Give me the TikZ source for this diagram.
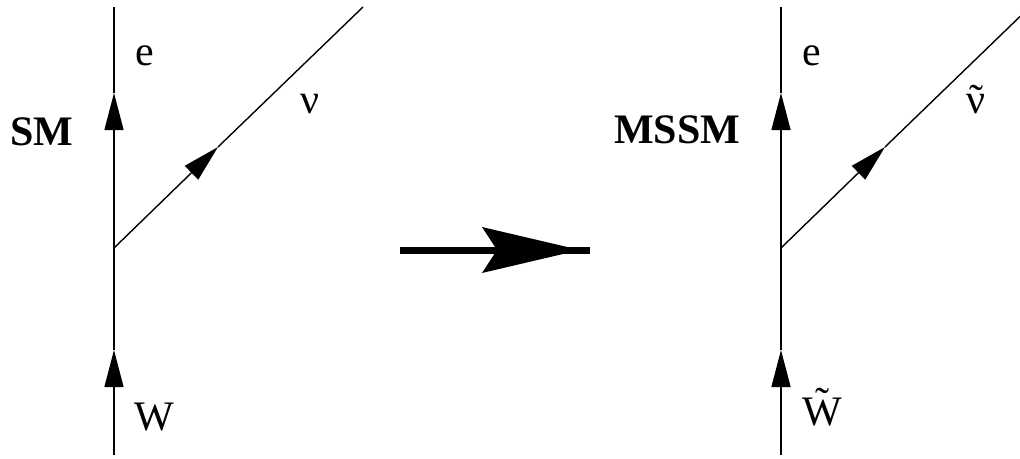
\documentclass[tikz,border=0pt]{standalone}
\usepackage{fontspec}
\setmainfont{Liberation Serif}
\usetikzlibrary{arrows.meta}
\begin{document}
\begin{tikzpicture}[x=1pt,y=-1pt,
  prop/.style={line width=1.4pt},
  fermion/.style={prop,-{Triangle[length=37pt,width=19pt]}},
  lbl/.style={anchor=base,inner sep=0pt,font=\fontsize{42}{48}\selectfont},
  model/.style={anchor=base,inner sep=0pt,font=\fontsize{42}{48}\selectfont\bfseries}]
\useasboundingbox (0,0) rectangle (1020,458);
% ---------- SM diagram ----------
\coordinate (Lbot) at (114,455);
\coordinate (Lv) at (114,248);
\coordinate (Ltop) at (114,7);
\coordinate (La1) at (114,93);
\coordinate (La2) at (114,350);
\coordinate (La3) at (218,147);
\coordinate (Lnu) at (363,7);
\draw[fermion] (Lbot) -- (La2);
\draw[prop] (La2) -- (Lv);
\draw[fermion] (Lv) -- (La1);
\draw[prop] (La1) -- (Ltop);
\draw[fermion] (Lv) -- (La3);
\draw[prop] (La3) -- (Lnu);
\node[lbl] (Le) at (145,65) {e};
\node[lbl] (Lnulbl) at (310,113) {ν};
\node[lbl] (LW) at (154,430) {W};
\node[model] (SM) at (42,145) {SM};
% ---------- big arrow ----------
\coordinate (As) at (400,250);
\coordinate (Ae) at (590,250);
\coordinate (Atip) at (580,250);
\coordinate (Ab1) at (482,227);
\coordinate (An) at (497,250);
\coordinate (Ab2) at (482,273);
\draw[line width=7pt] (As) -- (Ae);
\fill (Atip) -- (Ab1) -- (An) -- (Ab2) -- cycle;
% ---------- MSSM diagram ----------
\coordinate (Rbot) at (781,455);
\coordinate (Rv) at (781,248);
\coordinate (Rtop) at (781,7);
\coordinate (Ra1) at (781,93);
\coordinate (Ra2) at (781,350);
\coordinate (Ra3) at (885,147);
\coordinate (Rnu) at (1020,16.5);
\draw[fermion] (Rbot) -- (Ra2);
\draw[prop] (Ra2) -- (Rv);
\draw[fermion] (Rv) -- (Ra1);
\draw[prop] (Ra1) -- (Rtop);
\draw[fermion] (Rv) -- (Ra3);
\draw[prop] (Ra3) -- (Rnu);
\node[lbl] (Re) at (812,65) {e};
\node[lbl] (Rnulbl) at (976,113) {\accent"02DC ν};
\node[lbl] (RW) at (822,425) {\accent"02DC W};
\node[model] (MSSM) at (677,143) {MSSM};
\end{tikzpicture}
\end{document}
